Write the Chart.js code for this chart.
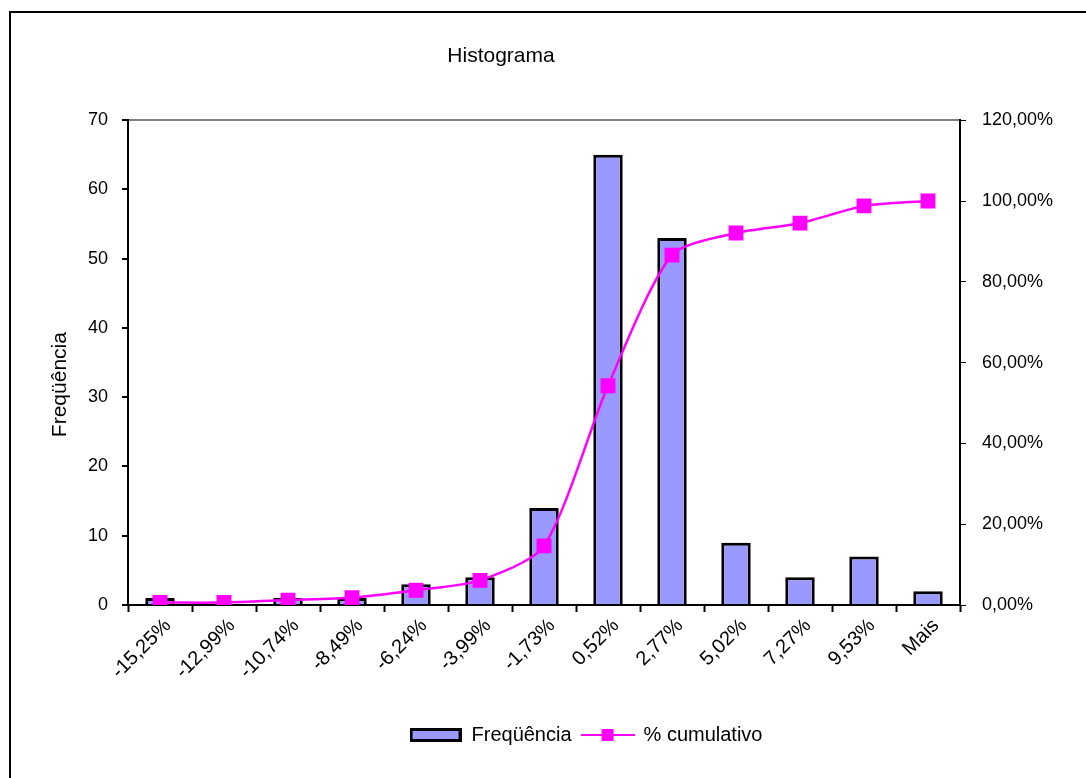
<!DOCTYPE html>
<html>
<head>
<meta charset="utf-8">
<title>Histograma</title>
<script src="https://cdn.jsdelivr.net/npm/chart.js@4.4.0/dist/chart.umd.min.js"></script>
<style>
  body { margin: 0; background: #fff; }
  #wrap { width: 1086px; height: 778px; }
</style>
</head>
<body>
<div id="wrap"><canvas id="histChart" width="1086" height="778"></canvas></div>
<script>
//bins of the histogram
const bins = ['-15,25%', '-12,99%', '-10,74%', '-8,49%', '-6,24%', '-3,99%', '-1,73%', '0,52%', '2,77%', '5,02%', '7,27%', '9,53%', 'Mais'];
//count of returns in each bin
const frequencies = [1, 0, 1, 1, 3, 4, 14, 65, 53, 9, 4, 7, 2];
//cumulative share of returns, in percent
const cumulative = [0.61, 0.61, 1.22, 1.83, 3.66, 6.10, 14.63, 54.27, 86.59, 92.07, 94.51, 98.78, 100.00];

const barFill = '#9999ff';
const lineColor = '#ff00ff';
const fontFamily = '"Liberation Sans", Arial, sans-serif';

//small swatches used as legend markers
const makeBarSwatch = () => {
  const c = document.createElement('canvas');
  c.width = 52;
  c.height = 14;
  const g = c.getContext('2d');
  g.fillStyle = barFill;
  g.fillRect(0, 0, 52, 14);
  g.lineWidth = 3;
  g.strokeStyle = '#000';
  g.strokeRect(1.5, 1.5, 49, 11);
  return c;
};

const makeLineSwatch = () => {
  const c = document.createElement('canvas');
  c.width = 54;
  c.height = 14;
  const g = c.getContext('2d');
  g.strokeStyle = lineColor;
  g.lineWidth = 2;
  g.beginPath();
  g.moveTo(0, 7);
  g.lineTo(54, 7);
  g.stroke();
  g.fillStyle = lineColor;
  g.fillRect(21, 1, 12, 12);
  return c;
};

//outer frame of the chart object
const framePlugin = {
  id: 'frame',
  beforeDraw(chart) {
    const ctx = chart.ctx;
    ctx.save();
    ctx.fillStyle = '#fff';
    ctx.fillRect(0, 0, chart.width, chart.height);
    ctx.strokeStyle = '#000';
    ctx.lineWidth = 2;
    ctx.strokeRect(10, 12, chart.width + 20, chart.height + 20);
    ctx.restore();
  },
};

//title and legend sit off the canvas centre
const nudgePlugin = {
  id: 'nudge',
  afterLayout(chart) {
    chart.titleBlock.left -= 47;
    chart.titleBlock.right -= 47;
    chart.legend.left += 38;
    chart.legend.right += 38;
  },
};

//left axis title, placed a bit below the axis middle
const axisTitlePlugin = {
  id: 'axisTitle',
  afterDraw(chart) {
    const ctx = chart.ctx;
    const area = chart.chartArea;
    ctx.save();
    ctx.translate(60, (area.top + area.bottom) / 2 + 22);
    ctx.rotate(-Math.PI / 2);
    ctx.fillStyle = '#000';
    ctx.font = '21px ' + fontFamily;
    ctx.textAlign = 'center';
    ctx.textBaseline = 'middle';
    ctx.fillText('Freqüência', 0, 0);
    ctx.restore();
  },
};

const barSwatch = makeBarSwatch();
const lineSwatch = makeLineSwatch();

new Chart(document.getElementById('histChart'), {
  type: 'bar',
  data: {
    labels: bins,
    datasets: [
      {
        type: 'line',
        label: '% cumulativo',
        data: cumulative,
        yAxisID: 'yPct',
        borderColor: lineColor,
        backgroundColor: lineColor,
        borderWidth: 2.5,
        tension: 0.25,
        pointStyle: 'rect',
        pointRadius: 10.5,
        pointBorderWidth: 0,
        order: 1,
      },
      {
        type: 'bar',
        label: 'Freqüência',
        data: frequencies,
        yAxisID: 'y',
        backgroundColor: barFill,
        borderColor: '#000',
        borderWidth: 3,
        categoryPercentage: 1,
        barPercentage: 0.46,
        order: 2,
      },
    ],
  },
  options: {
    responsive: false,
    animation: false,
    layout: { padding: { left: 10, right: 0, top: 0, bottom: 23 } },
    plugins: {
      tooltip: { enabled: false },
      title: {
        display: true,
        text: 'Histograma',
        color: '#000',
        font: { family: fontFamily, size: 21, weight: 'normal' },
        padding: { top: 44, bottom: 51 },
      },
      legend: {
        display: true,
        position: 'bottom',
        labels: {
          color: '#000',
          font: { family: fontFamily, size: 20 },
          usePointStyle: true,
          pointStyleWidth: 52,
          padding: 10,
          generateLabels: () => [
            { text: 'Freqüência', pointStyle: barSwatch, fillStyle: barFill, strokeStyle: '#000', lineWidth: 0, datasetIndex: 1 },
            { text: '% cumulativo', pointStyle: lineSwatch, fillStyle: lineColor, strokeStyle: lineColor, lineWidth: 0, datasetIndex: 0 },
          ],
        },
      },
    },
    scales: {
      x: {
        afterFit: (scale) => { scale.height = 110; },
        grid: { offset: true, drawOnChartArea: false, tickLength: 7, tickColor: '#000', tickWidth: 2 },
        border: { color: '#000', width: 2 },
        ticks: {
          color: '#000',
          font: { family: fontFamily, size: 20 },
          maxRotation: 45,
          minRotation: 45,
          padding: 2,
          labelOffset: 8,
        },
      },
      y: {
        position: 'left',
        min: 0,
        max: 70,
        afterFit: (scale) => { scale.width = 118; },
        grid: {
          color: (ctx) => (ctx.tick && ctx.tick.value === 70 ? '#808080' : 'rgba(0,0,0,0)'),
          lineWidth: 2,
          tickLength: 6,
          tickColor: '#000',
        },
        border: { color: '#000', width: 2 },
        ticks: {
          stepSize: 10,
          color: '#000',
          font: { family: fontFamily, size: 18 },
          padding: 14,
        },
      },
      yPct: {
        position: 'right',
        min: 0,
        max: 120,
        afterFit: (scale) => { scale.width = 126; },
        grid: { drawOnChartArea: false, tickLength: 6, tickColor: '#000' },
        border: { color: '#000', width: 2 },
        ticks: {
          stepSize: 20,
          color: '#000',
          font: { family: fontFamily, size: 18 },
          padding: 16,
          callback: (v) => v.toFixed(2).replace('.', ',') + '%',
        },
      },
    },
  },
  plugins: [framePlugin, nudgePlugin, axisTitlePlugin],
});
</script>
</body>
</html>
